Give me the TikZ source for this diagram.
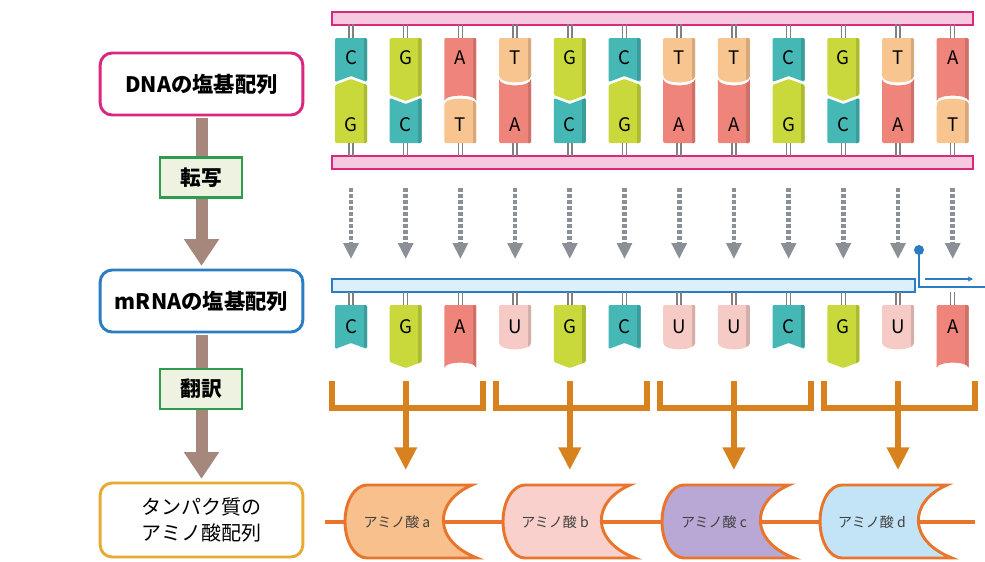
\documentclass[tikz,border=0pt]{standalone}
\usepackage{fontspec}
\setmainfont{Noto Sans CJK JP}
\usetikzlibrary{arrows.meta}
\definecolor{dnaPink}{HTML}{D8287F}
\definecolor{dnaFill}{HTML}{F7C9DE}
\definecolor{rnaBlue}{HTML}{2A7DC2}
\definecolor{rnaFill}{HTML}{DCEFFA}
\definecolor{protGold}{HTML}{E9A935}
\definecolor{stepGreen}{HTML}{2F9B4E}
\definecolor{stepFill}{HTML}{EEF2E0}
\definecolor{flowBrown}{HTML}{A6877B}
\definecolor{arrGray}{HTML}{8B9096}
\definecolor{brk}{HTML}{D8821F}
\definecolor{aaLine}{HTML}{E8752B}
\definecolor{baseC}{HTML}{45B7B4}
\definecolor{baseG}{HTML}{C9D93B}
\definecolor{baseA}{HTML}{EE847A}
\definecolor{baseT}{HTML}{F8C590}
\definecolor{baseU}{HTML}{F6CBC6}
\definecolor{aaA}{HTML}{F8C08C}
\definecolor{aaB}{HTML}{F9D0CC}
\definecolor{aaC}{HTML}{B9A8D6}
\definecolor{aaD}{HTML}{C2E4F6}
% base data: colour, corner offset, centre offset, edge kind
\newcommand\setbasexC{\def\bcol{baseC}\def\bcor{44}\def\bcen{38}\def\bkind{V}}
\newcommand\setbasexG{\def\bcol{baseG}\def\bcor{57}\def\bcen{63}\def\bkind{V}}
\newcommand\setbasexA{\def\bcol{baseA}\def\bcor{64}\def\bcen{58}\def\bkind{R}}
\newcommand\setbasexT{\def\bcol{baseT}\def\bcor{37}\def\bcen{44}\def\bkind{R}}
\newcommand\setbasexU{\def\bcol{baseU}\def\bcor{37}\def\bcen{44}\def\bkind{R}}
\newcommand\setbase[1]{\csname setbasex#1\endcsname}
\def\kindV{V}
% block with flat top at #2 and shaped bottom edge
\newcommand\topblk[3]{%
  \setbase{#3}%
  \pgfmathsetmacro\yc{#2+\bcor}%
  \pgfmathsetmacro\ym{#2+\bcen}%
  \pgfmathsetmacro\yq{\yc+(\ym-\yc)*4/3}%
  \ifx\bkind\kindV
    \def\blkpath{(#1-16,#2) -- (#1+16,#2) -- (#1+16,\yc) -- (#1,\ym) -- (#1-16,\yc) -- cycle}%
  \else
    \def\blkpath{(#1-16,#2) -- (#1+16,#2) -- (#1+16,\yc) .. controls (#1+15,\yq) and (#1-15,\yq) .. (#1-16,\yc) -- cycle}%
  \fi
  \fill[\bcol, rounded corners=1pt] \blkpath;
  \begin{scope}\clip[rounded corners=1pt] \blkpath; \fill[\bcol!86!black] (#1+12.5,#2-1) rectangle (#1+17,\yq+6);\end{scope}
}
% lower strand block: top edge follows the partner (#3), colour of #4, flat bottom at 143
\newcommand\botblk[4]{%
  \setbase{#3}%
  \pgfmathsetmacro\yc{#2+\bcor+3}%
  \pgfmathsetmacro\ym{#2+\bcen+3}%
  \pgfmathsetmacro\yq{\yc+(\ym-\yc)*4/3}%
  \let\tkind\bkind
  \setbase{#4}%
  \ifx\tkind\kindV
    \def\blkpath{(#1-16,\yc) -- (#1,\ym) -- (#1+16,\yc) -- (#1+16,143) -- (#1-16,143) -- cycle}%
  \else
    \def\blkpath{(#1-16,\yc) .. controls (#1-15,\yq) and (#1+15,\yq) .. (#1+16,\yc) -- (#1+16,143) -- (#1-16,143) -- cycle}%
  \fi
  \fill[\bcol, rounded corners=1pt] \blkpath;
  \begin{scope}\clip[rounded corners=1pt] \blkpath; \fill[\bcol!86!black] (#1+12.5,\yq-8) rectangle (#1+17,144);\end{scope}
}
\newcommand\aminoshape[2]{% left x, fill
  \filldraw[aashape, fill=#2] (#1+127,485) -- (#1+22,485)
    .. controls (#1+10,485) and (#1,501) .. (#1,521.5)
    .. controls (#1,542) and (#1+10,558) .. (#1+22,558)
    -- (#1+132,558) .. controls (#1+88,541) and (#1+88,502) .. (#1+127,485) -- cycle;
}
\begin{document}
\begin{tikzpicture}[x=0.75pt,y=-0.75pt,
  flowbox/.style={draw, line width=2.2pt, rounded corners=9pt, fill=white, minimum width=152pt, minimum height=46.5pt, inner sep=0pt, align=center},
  stepbox/.style={draw=stepGreen, fill=stepFill, line width=2.2pt, minimum width=61.5pt, minimum height=30pt, inner sep=0pt, font=\fontsize{15.5}{18}\selectfont\bfseries},
  flowarrow/.style={draw=flowBrown, line width=9pt, -{Triangle[width=25pt,length=20pt]}, shorten >=2pt, shorten <=1.2pt},
  baselbl/.style={font=\fontsize{14}{16}\selectfont, inner sep=0pt},
  stem/.style={draw=black!50, line width=1.1pt},
  dotarrow/.style={draw=arrGray, line width=3.5pt, dash pattern=on 3pt off 1.5pt, -{Triangle[width=11pt,length=12pt]}},
  bracket/.style={draw=brk, line width=4.5pt},
  brarrow/.style={draw=brk, line width=4.5pt, -{Triangle[width=16pt,length=17pt]}},
  aashape/.style={draw=aaLine, line width=2.2pt},
  aalbl/.style={font=\fontsize{10.5}{12}\selectfont, text=black!75, inner sep=0pt},
]
\useasboundingbox (0,0) rectangle (985,561);
\fill[white] (0,0) rectangle (985,561);

% ---------- left flow ----------
\node[flowbox, draw=dnaPink, font=\fontsize{16}{19}\selectfont\bfseries] (dna) at (201.5,84) {DNAの塩基配列};
\node[flowbox, draw=rnaBlue, font=\fontsize{16}{19}\selectfont\bfseries] (mrna) at (201.5,301) {mRNAの塩基配列};
\node[flowbox, draw=protGold, minimum height=55.5pt, font=\fontsize{15}{19.5}\selectfont] (prot) at (201.5,520) {タンパク質の\\アミノ酸配列};
\draw[flowarrow] (dna.south) -- (mrna.north);
\draw[flowarrow] (mrna.south) -- (prot.north);
\node[stepbox] (tx) at (201,177.5) {転写};
\node[stepbox] (tl) at (201,389) {翻訳};

% ---------- DNA backbones ----------
\draw[dnaPink, fill=dnaFill, line width=1.5pt] (332,11.5) rectangle (973,24.5);
\draw[dnaPink, fill=dnaFill, line width=1.5pt] (332,156) rectangle (973,169);

% ---------- mRNA backbone ----------
\draw[rnaBlue, fill=rnaFill, line width=1.5pt] (332,279) rectangle (915,292);
\coordinate (dot) at (919,250);
\coordinate (bend) at (919,287);
\coordinate (outR) at (985,287);
\draw[rnaBlue, line width=2pt] (dot) -- (bend) -- (outR);
\fill[rnaBlue] (dot) circle (5);
\coordinate (thinA) at (925,279);
\coordinate (thinB) at (973,279);
\draw[rnaBlue, line width=0.8pt, -{Stealth[length=4pt,width=4pt]}] (thinA) -- (thinB);

% ---------- bases ----------
\foreach \t/\b/\m [count=\i from 0] in {C/G/C, G/C/G, A/T/A, T/A/U, G/C/G, C/G/C, T/A/U, T/A/U, C/G/C, G/C/G, T/A/U, A/T/A}{
  \pgfmathsetmacro\x{351+54.7*\i}
  % stems
  \draw[stem] (\x-2,24) -- (\x-2,39);
  \draw[stem] (\x+2,24) -- (\x+2,39);
  \draw[stem] (\x-2,142) -- (\x-2,156);
  \draw[stem] (\x+2,142) -- (\x+2,156);
  \draw[stem] (\x-2,292) -- (\x-2,306);
  \draw[stem] (\x+2,292) -- (\x+2,306);
  % DNA pair
  \topblk{\x}{38}{\t}
  \botblk{\x}{38}{\t}{\b}
  \node[baselbl] (top\i) at (\x,58) {\t};
  \node[baselbl] (bot\i) at (\x,125) {\b};
  % transcription arrows
  \coordinate (as\i) at (\x,188);
  \coordinate (ae\i) at (\x,259);
  \draw[dotarrow] (as\i) -- (ae\i);
  % mRNA base
  \topblk{\x}{305}{\m}
  \node[baselbl] (rna\i) at (\x,327) {\m};
}

% ---------- codon brackets ----------
\foreach \c [count=\k] in {405.7, 569.8, 733.9, 898}{
  \draw[bracket] (\c-74,381) -- (\c-74,408) -- (\c+77,408) -- (\c+77,381);
  \coordinate (bs\k) at (\c,381);
  \coordinate (be\k) at (\c,470);
  \draw[brarrow] (bs\k) -- (be\k);
}

% ---------- amino acid chain ----------
\coordinate (chainL) at (325,522);
\coordinate (chainR) at (975,522);
\draw[aaLine, line width=3pt] (chainL) -- (chainR);
\aminoshape{345}{aaA}
\aminoshape{503}{aaB}
\aminoshape{662}{aaC}
\aminoshape{820}{aaD}
\node[aalbl] (aa1) at (397,522) {アミノ酸 a};
\node[aalbl] (aa2) at (555,522) {アミノ酸 b};
\node[aalbl] (aa3) at (714,522) {アミノ酸 c};
\node[aalbl] (aa4) at (872,522) {アミノ酸 d};
\end{tikzpicture}
\end{document}
